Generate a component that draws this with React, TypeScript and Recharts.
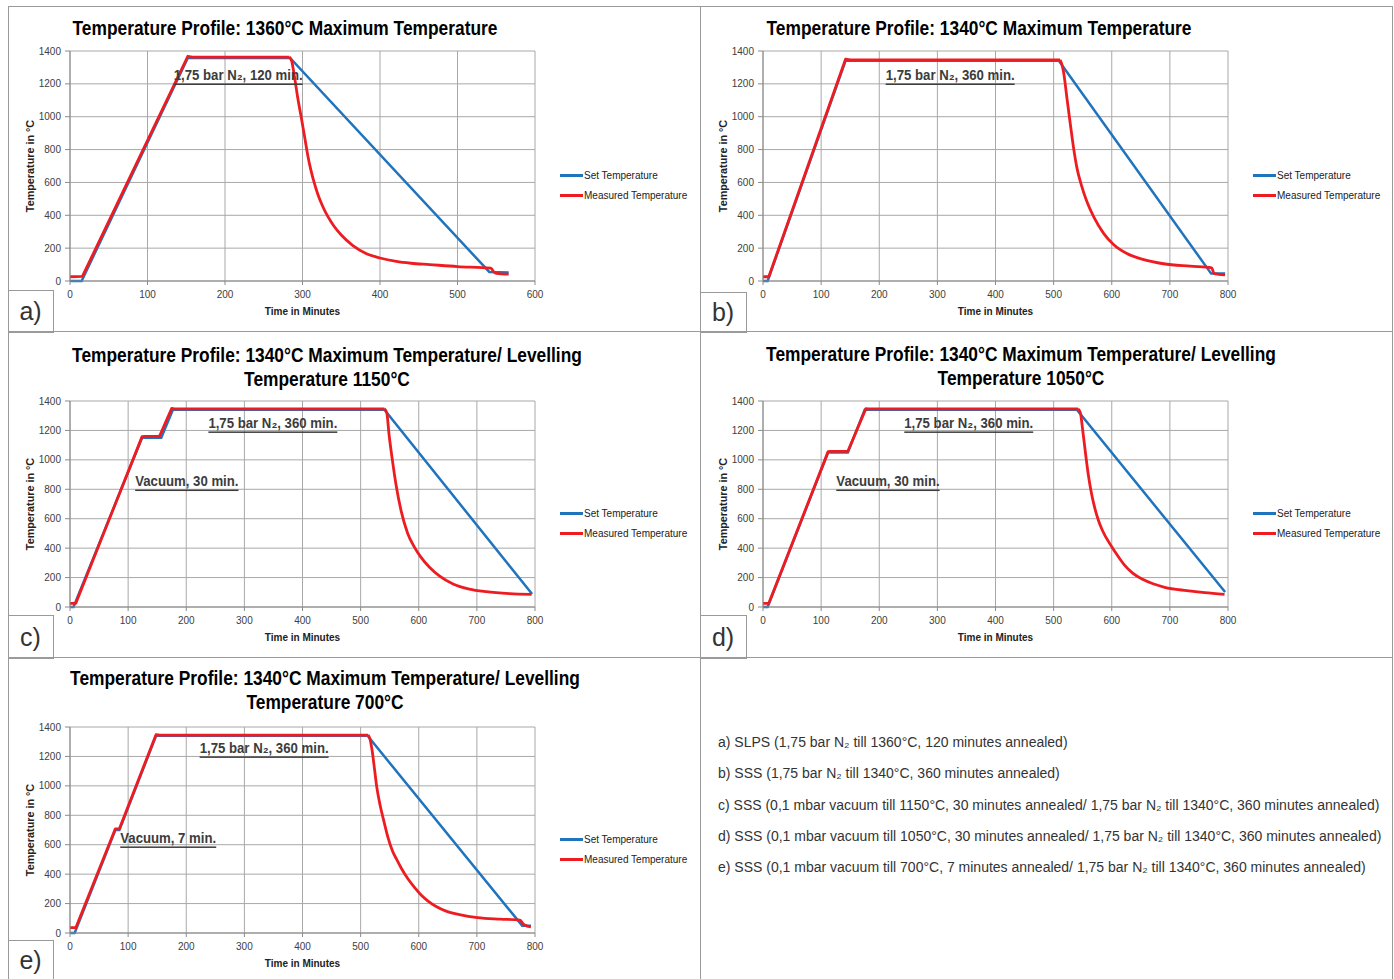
import React from 'react';
import { LineChart, Line, XAxis, YAxis, CartesianGrid, Legend, ReferenceDot } from 'recharts';

type Pt = [number, number];

// Panel a
const setA: Pt[] = [[0, 0], [15, 0], [152, 1358], [284, 1358], [541, 55], [566, 52]];
const heatA: Pt[] = [[0, 26], [16, 28], [152, 1368], [158, 1363], [283, 1363]];
const coolA: Pt[] = [[283, 1363], [286, 1340], [290, 1233], [294, 1111], [299, 980], [303, 870], [307, 760], [311, 672], [315, 600], [320, 525], [326, 455], [333, 390], [340, 338], [350, 280], [365, 216], [382, 168], [400, 140], [421, 119], [440, 108], [464, 100], [500, 88], [543, 78], [547, 55], [550, 47], [566, 42]];
// Panel b
const setB: Pt[] = [[0, 0], [8, 0], [142, 1340], [509, 1340], [771, 45], [795, 45]];
const heatB: Pt[] = [[0, 26], [10, 26], [142, 1350], [150, 1346], [511, 1346]];
const coolB: Pt[] = [[511, 1346], [514, 1320], [517, 1274], [523, 1111], [529, 948], [534, 818], [540, 690], [548, 580], [557, 485], [569, 390], [586, 290], [603, 222], [626, 167], [655, 130], [689, 105], [735, 90], [772, 80], [776, 45], [795, 38]];
// Panel c
const setC: Pt[] = [[0, 0], [6, 0], [124, 1150], [157, 1150], [177, 1340], [541, 1340], [795, 88]];
const heatC: Pt[] = [[0, 25], [10, 25], [124, 1158], [128, 1160], [154, 1160], [175, 1350], [180, 1347], [541, 1347]];
const coolC: Pt[] = [[541, 1347], [545, 1320], [549, 1169], [555, 988], [561, 829], [570, 648], [581, 500], [592, 410], [603, 342], [618, 272], [636, 210], [659, 157], [687, 122], [716, 104], [756, 91], [794, 86]];
// Panel d
const setD: Pt[] = [[0, 0], [8, 0], [112, 1050], [146, 1050], [175, 1340], [540, 1340], [795, 102]];
const heatD: Pt[] = [[0, 25], [10, 25], [112, 1056], [116, 1058], [146, 1058], [177, 1348], [182, 1346], [542, 1346]];
const coolD: Pt[] = [[542, 1346], [546, 1320], [550, 1203], [555, 1040], [560, 890], [565, 775], [570, 685], [577, 590], [584, 520], [600, 410], [610, 350], [622, 285], [636, 230], [653, 188], [671, 158], [691, 134], [729, 111], [760, 97], [794, 86]];
// Panel e
const setE: Pt[] = [[0, 0], [8, 0], [78, 700], [85, 700], [148, 1340], [512, 1340], [778, 50], [793, 50]];
const heatE: Pt[] = [[0, 36], [10, 36], [78, 708], [85, 708], [148, 1348], [155, 1345], [513, 1345]];
const coolE: Pt[] = [[513, 1345], [516, 1320], [520, 1235], [524, 1110], [528, 986], [534, 860], [540, 760], [547, 650], [555, 556], [562, 500], [570, 440], [581, 370], [593, 308], [604, 258], [616, 217], [630, 180], [647, 149], [670, 125], [701, 104], [740, 94], [774, 88], [778, 70], [782, 54], [793, 41]];

const xTicks600 = [0, 100, 200, 300, 400, 500, 600];
const xTicks800 = [0, 100, 200, 300, 400, 500, 600, 700, 800];
const yTicks = [0, 200, 400, 600, 800, 1000, 1200, 1400];

const titleA = ['Temperature Profile: 1360°C Maximum Temperature'];
const titleB = ['Temperature Profile: 1340°C Maximum Temperature'];
const titleC = ['Temperature Profile: 1340°C Maximum Temperature/ Levelling', 'Temperature 1150°C'];
const titleD = ['Temperature Profile: 1340°C Maximum Temperature/ Levelling', 'Temperature 1050°C'];
const titleE = ['Temperature Profile: 1340°C Maximum Temperature/ Levelling', 'Temperature 700°C'];

const notesA = [{ x: 217, y: 1254, text: '1,75 bar N₂, 120 min.' }];
const notesB = [{ x: 322, y: 1254, text: '1,75 bar N₂, 360 min.' }];
const notesC = [{ x: 349, y: 1251, text: '1,75 bar N₂, 360 min.' }, { x: 201, y: 856, text: 'Vacuum, 30 min.' }];
const notesD = [{ x: 354, y: 1251, text: '1,75 bar N₂, 360 min.' }, { x: 215, y: 856, text: 'Vacuum, 30 min.' }];
const notesE = [{ x: 334, y: 1258, text: '1,75 bar N₂, 360 min.' }, { x: 169, y: 646, text: 'Vacuum, 7 min.' }];

const captions = [
  'a) SLPS (1,75 bar N₂ till 1360°C, 120 minutes annealed)',
  'b) SSS (1,75 bar N₂ till 1340°C, 360 minutes annealed)',
  'c) SSS (0,1 mbar vacuum till 1150°C, 30 minutes annealed/ 1,75 bar N₂ till 1340°C, 360 minutes annealed)',
  'd) SSS (0,1 mbar vacuum till 1050°C, 30 minutes annealed/ 1,75 bar N₂ till 1340°C, 360 minutes annealed)',
  'e) SSS (0,1 mbar vacuum till 700°C, 7 minutes annealed/ 1,75 bar N₂ till 1340°C, 360 minutes annealed)',
];

const BLUE = '#1f74bd';
const RED = '#ee1c20';
const SANS = '"Liberation Sans", Arial, sans-serif';
const FRAME = '#9a9a9a';

const toData = (pts: Pt[]) => pts.map(([t, v]) => ({ t, v }));

interface PanelProps {
  left: number;
  top: number;
  height: number;
  plotTop: number;
  yAxisW: number;
  xMax: number;
  xTicks: number[];
  set: Pt[];
  heat: Pt[];
  cool: Pt[];
  notes: { x: number; y: number; text: string }[];
  title: string[];
  titleCx: number;
  titleY: number;
  letter: string;
  boxTop: number;
  boxW: number;
  bottom: number;
}

const W = 692;

function Panel(p: PanelProps) {
  const plotBottom = p.height - p.bottom;
  const plotLeft = p.yAxisW;
  const plotRight = plotLeft + 465;
  const plotMid = p.plotTop + (plotBottom - p.plotTop) / 2;
  const legendTop = plotMid - 1;
  return (
    <div style={{ position: 'absolute', left: p.left, top: p.top, width: W, height: p.height }}>
      {p.title.map((line, i) => (
        <div
          key={i}
          style={{
            position: 'absolute',
            left: p.titleCx - 400,
            width: 800,
            top: p.titleY + i * 24 - 12,
            height: 24,
            lineHeight: '24px',
            textAlign: 'center',
            fontFamily: SANS,
            fontWeight: 700,
            fontSize: 19.5,
            color: '#000',
            whiteSpace: 'nowrap',
            transform: 'scaleX(0.89)',
            transformOrigin: 'center',
          }}
        >
          {line}
        </div>
      ))}
      <LineChart
        width={W}
        height={p.height}
        margin={{ top: p.plotTop, right: W - plotRight, bottom: 0, left: 0 }}
        style={{ position: 'absolute', left: 0, top: 0 }}
      >
        <CartesianGrid stroke="#a8a8a8" strokeWidth={1} />
        <XAxis
          dataKey="t"
          type="number"
          domain={[0, p.xMax]}
          ticks={p.xTicks}
          allowDataOverflow
          height={p.bottom}
          stroke="#8a8a8a"
          tickSize={4}
          tickMargin={6}
          tick={{ fill: '#404040', fontSize: 10, fontFamily: SANS }}
          label={() => (
            <text
              x={plotLeft + 465 / 2}
              y={plotBottom + 30}
              textAnchor="middle"
              dominantBaseline="central"
              fontFamily={SANS}
              fontWeight={700}
              fontSize={10}
              fill="#222"
            >
              Time in Minutes
            </text>
          )}
        />
        <YAxis
          type="number"
          domain={[0, 1400]}
          ticks={yTicks}
          width={p.yAxisW}
          stroke="#8a8a8a"
          tickSize={5}
          tickMargin={4}
          tick={{ fill: '#404040', fontSize: 10, fontFamily: SANS }}
          label={() => {
            const cx = p.yAxisW - 40;
            return (
              <text
                x={cx}
                y={plotMid}
                transform={`rotate(-90 ${cx} ${plotMid})`}
                textAnchor="middle"
                dominantBaseline="central"
                fontFamily={SANS}
                fontWeight={700}
                fontSize={10.8}
                fill="#222"
              >
                Temperature in °C
              </text>
            );
          }}
        />
        <Legend
          layout="vertical"
          align="center"
          verticalAlign="middle"
          wrapperStyle={{ left: plotRight + 25, top: legendTop, width: 150 }}
          content={() => (
            <div style={{ fontFamily: SANS, fontSize: 10, color: '#222', whiteSpace: 'nowrap' }}>
              {[
                { c: BLUE, n: 'Set Temperature' },
                { c: RED, n: 'Measured Temperature' },
              ].map((it) => (
                <div key={it.n} style={{ display: 'flex', alignItems: 'center', height: 20 }}>
                  <span style={{ display: 'inline-block', width: 23, height: 3, background: it.c, marginRight: 1 }} />
                  <span>{it.n}</span>
                </div>
              ))}
            </div>
          )}
        />
        <Line data={toData(p.set)} dataKey="v" type="linear" stroke={BLUE} strokeWidth={2.5} dot={false} isAnimationActive={false} name="Set Temperature" />
        <Line data={toData(p.heat)} dataKey="v" type="linear" stroke={RED} strokeWidth={2.8} strokeLinejoin="round" dot={false} isAnimationActive={false} name="Measured Temperature" />
        <Line data={toData(p.cool)} dataKey="v" type="monotone" stroke={RED} strokeWidth={2.8} strokeLinejoin="round" dot={false} isAnimationActive={false} name="Measured Temperature (cooling)" legendType="none" />
        {p.notes.map((n, i) => (
          <ReferenceDot
            key={i}
            x={n.x}
            y={n.y}
            r={1}
            isFront
            shape={(sp: any) => (
              <text
                x={0}
                y={0}
                transform={`translate(${sp.cx} ${sp.cy}) scale(0.88 1)`}
                textAnchor="middle"
                dominantBaseline="central"
                fontFamily={SANS}
                fontWeight={700}
                fontSize={15}
                fill="#3c3c3c"
                textDecoration="underline"
                style={{ textDecoration: 'underline' }}
              >
                {n.text}
              </text>
            )}
          />
        ))}
      </LineChart>
      <div
        style={{
          position: 'absolute',
          left: 0,
          top: p.boxTop,
          width: p.boxW,
          height: p.height - p.boxTop + 2,
          border: `1px solid ${FRAME}`,
          borderLeft: 'none',
          boxSizing: 'border-box',
          fontFamily: SANS,
          fontSize: 25,
          color: '#333',
          display: 'flex',
          alignItems: 'center',
          justifyContent: 'center',
        }}
      >
        {p.letter}
      </div>
    </div>
  );
}

export default function App() {
  return (
    <div style={{ position: 'absolute', left: 0, top: 0, width: 1394, height: 979, background: '#fff', overflow: 'hidden' }}>
      <div style={{ position: 'absolute', left: 8, top: 6, width: 1385, height: 1, background: FRAME }} />
      <div style={{ position: 'absolute', left: 8, top: 6, width: 1, height: 973, background: FRAME }} />
      <div style={{ position: 'absolute', left: 700, top: 6, width: 1, height: 973, background: FRAME }} />
      <div style={{ position: 'absolute', left: 1392, top: 6, width: 1, height: 973, background: FRAME }} />
      <div style={{ position: 'absolute', left: 8, top: 331, width: 1385, height: 1, background: FRAME }} />
      <div style={{ position: 'absolute', left: 8, top: 657, width: 1385, height: 1, background: FRAME }} />

      <Panel left={8} top={6} height={325} plotTop={45} bottom={50} yAxisW={62} xMax={600} xTicks={xTicks600} set={setA} heat={heatA} cool={coolA} notes={notesA} title={titleA} titleCx={277} titleY={22} letter="a)" boxTop={284} boxW={46} />
      <Panel left={700} top={6} height={325} plotTop={45} bottom={50} yAxisW={63} xMax={800} xTicks={xTicks800} set={setB} heat={heatB} cool={coolB} notes={notesB} title={titleB} titleCx={279} titleY={22} letter="b)" boxTop={286} boxW={47} />
      <Panel left={8} top={331} height={326} plotTop={70} bottom={50} yAxisW={62} xMax={800} xTicks={xTicks800} set={setC} heat={heatC} cool={coolC} notes={notesC} title={titleC} titleCx={319} titleY={24} letter="c)" boxTop={284} boxW={46} />
      <Panel left={700} top={331} height={326} plotTop={70} bottom={50} yAxisW={63} xMax={800} xTicks={xTicks800} set={setD} heat={heatD} cool={coolD} notes={notesD} title={titleD} titleCx={321} titleY={23} letter="d)" boxTop={284} boxW={47} />
      <Panel left={8} top={657} height={322} plotTop={70} bottom={46} yAxisW={62} xMax={800} xTicks={xTicks800} set={setE} heat={heatE} cool={coolE} notes={notesE} title={titleE} titleCx={317} titleY={21} letter="e)" boxTop={283} boxW={46} />

      <div style={{ position: 'absolute', left: 718, top: 731, fontFamily: SANS, fontSize: 14, color: '#333' }}>
        {captions.map((c) => (
          <div key={c} style={{ height: 31.3, lineHeight: '22px', whiteSpace: 'nowrap' }}>
            {c}
          </div>
        ))}
      </div>
    </div>
  );
}
